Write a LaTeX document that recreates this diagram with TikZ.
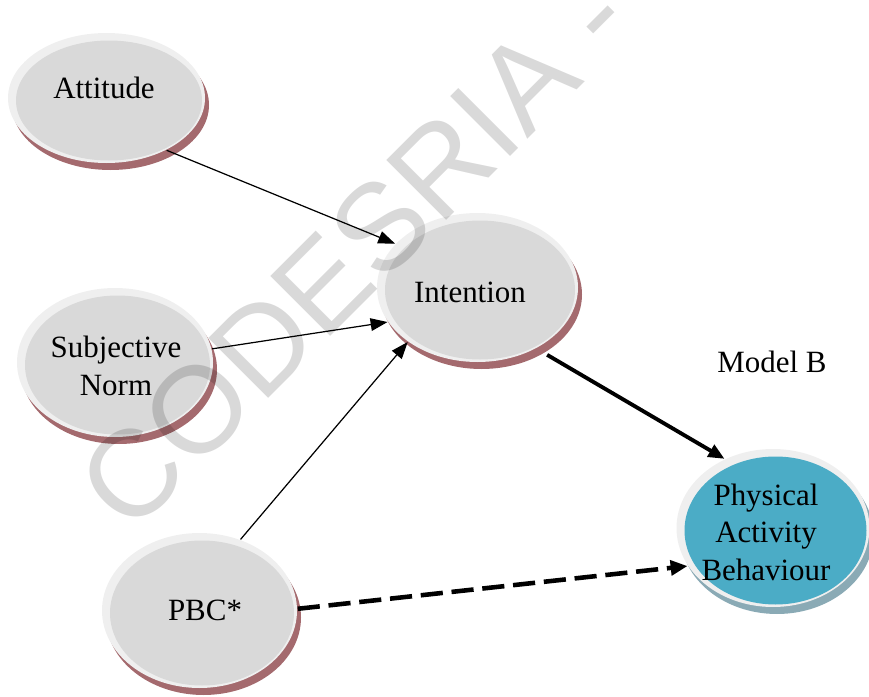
\documentclass[tikz,border=0pt]{standalone}
\usepackage{fontspec}
\setmainfont{Liberation Serif}
\newfontfamily\wmfont{Liberation Sans}
\usetikzlibrary{arrows.meta, shapes.geometric}
\definecolor{ringgray}{HTML}{EFEFEF}
\definecolor{bubblegray}{HTML}{D9D9D9}
\definecolor{aqua}{HTML}{4BACC6}
\definecolor{rimred}{HTML}{A46A6E}
\definecolor{rimblue}{HTML}{8AAAB5}

\begin{document}
\begin{tikzpicture}[x=0.01cm, y=-0.01cm,
  caption/.style={font=\fontsize{8.8}{10.6}\selectfont, align=center, inner sep=0pt},
  bubble/.style={ellipse, inner sep=0pt, draw=none},
  link/.style={line width=0.35pt, -{Triangle[length=4.8pt, width=3.6pt]}},
  strong/.style={line width=1.1pt, -{Triangle[length=4.6pt, width=3.8pt]}},
  weak/.style={line width=1.3pt, dash pattern=on 6.3pt off 2.5pt, -{Triangle[length=4.8pt, width=4.2pt]}},
]
\useasboundingbox (0,0) rectangle (869,697);

% discs: hatched rim, light ring, face
\foreach \cx/\cy/\rx/\ry/\face/\rim in {
  106.5/98/98.5/65/bubblegray/rimred,
  477.5/287.5/100.5/74.5/bubblegray/rimred,
  115/362.5/98/74.5/bubblegray/rimred,
  199.5/610.5/97.5/77.5/bubblegray/rimred,
  773/528/96.5/79/aqua/rimblue}{
  \fill[\rim] (\cx+4,\cy+7) ellipse [x radius=\rx, y radius=\ry];
  \fill[ringgray] (\cx,\cy) ellipse [x radius=\rx, y radius=\ry];
  \fill[\face] (\cx+2.5,\cy+2.5) ellipse [x radius=\rx-5.5, y radius=\ry-5];
}

% outline nodes used as connector anchors
\node[bubble, minimum width=1.97cm, minimum height=1.30cm] (att) at (106.5,98) {};
\node[bubble, minimum width=2.01cm, minimum height=1.49cm] (int) at (477.5,287.5) {};
\node[bubble, minimum width=1.96cm, minimum height=1.49cm] (sn) at (115,362.5) {};
\node[bubble, minimum width=1.95cm, minimum height=1.55cm] (pbc) at (199.5,610.5) {};
\node[bubble, minimum width=1.93cm, minimum height=1.58cm] (pab) at (773,528) {};

% labels (anchored on the baseline of the last line)
\node[caption, anchor=base] (attT) at (104,98) {Attitude};
\node[caption, anchor=base] (intT) at (470,302) {Intention};
\node[caption, anchor=base] (snT) at (116,395) {Subjective\\Norm};
\node[caption, anchor=base] (pbcT) at (205,620) {PBC*};
\node[caption, anchor=base] (pabT) at (766,580) {Physical\\Activity\\Behaviour};
\node[caption, anchor=base] (model) at (772,372) {Model B};

% paths
\draw[link] (att.-41) -- (int.152);
\draw[link] (sn.8) -- (int.201);
\draw[link] (pbc.60) -- (int.218);
\draw[strong, shorten <=3.5pt] (int.-46) -- (pab.125);
\draw[weak] (pbc.1) -- (pab.204);

% watermark
\begin{scope}
\clip (0,0) rectangle (869,697);
\node[anchor=base west, rotate=45, inner sep=0pt, font=\wmfont\fontsize{35}{35}\selectfont,
      text=black, text opacity=0.15] (wm) at (130,537) {CODESRIA - LIBRARY};
\end{scope}
\end{tikzpicture}
\end{document}
